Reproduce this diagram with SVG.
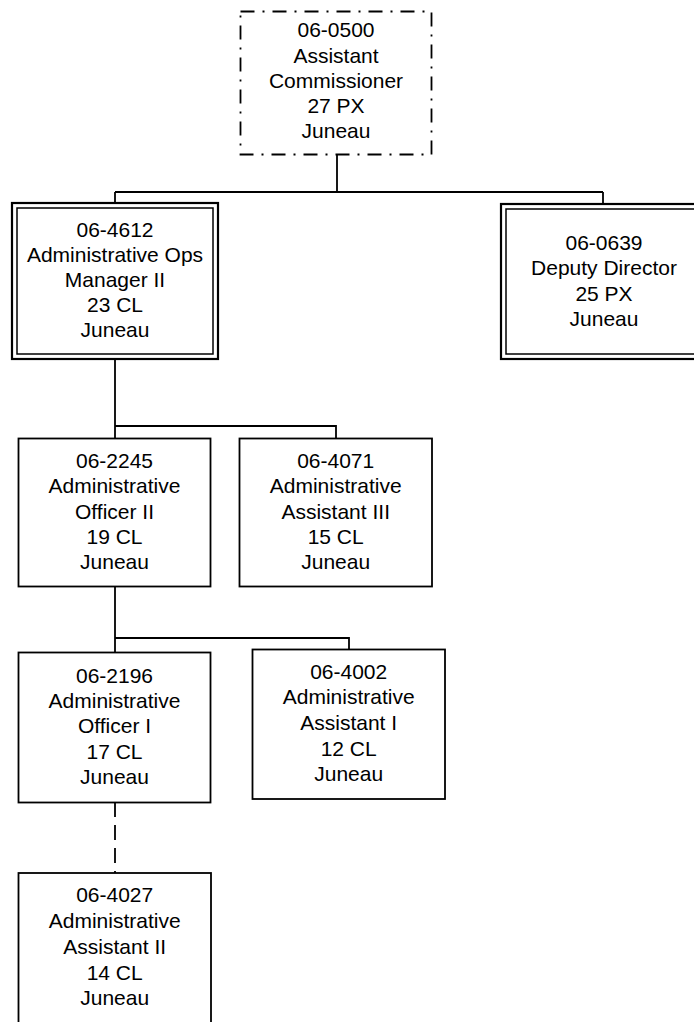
<svg xmlns="http://www.w3.org/2000/svg" width="694" height="1022" viewBox="0 0 694 1022">
<style>
  .box { fill: #ffffff; stroke: #000000; stroke-width: 1.8; }
  .outer { fill: #ffffff; stroke: #000000; stroke-width: 2.2; }
  .inner { fill: none; stroke: #000000; stroke-width: 1.5; }
  .dashdot { fill: #ffffff; stroke: #000000; stroke-width: 1.8; stroke-dasharray: 14 8 2 8; }
  .conn { fill: none; stroke: #000000; stroke-width: 1.8; }
  .dashed { stroke-dasharray: 15 8; }
  text { font-family: "Liberation Sans", Arial, sans-serif; font-size: 21px; fill: #000000; text-anchor: middle; }
</style>
<rect width="694" height="1022" fill="#ffffff"/>
<g id="connectors">
  <path class="conn" d="M337 155 V192 M115 192 H603 M115 192 V203 M603 192 V204"/>
  <path class="conn" d="M115 359 V438 M115 426 H336 V438"/>
  <path class="conn" d="M115 587 V652 M115 638 H349 V649"/>
  <path class="conn dashed" d="M115 802 V873"/>
</g>
<g id="n0500">
  <rect class="dashdot" x="240.5" y="11.5" width="191" height="143"/>
  <text x="336" y="37.3">06-0500</text>
  <text x="336" y="63">Assistant</text>
  <text x="336" y="88">Commissioner</text>
  <text x="336" y="113.3">27 PX</text>
  <text x="336" y="138.3">Juneau</text>
</g>
<g id="n4612">
  <rect class="outer" x="12" y="203" width="206" height="156"/>
  <rect class="inner" x="17" y="208" width="196" height="146"/>
  <text x="115" y="236.7">06-4612</text>
  <text x="115" y="261.7">Administrative Ops</text>
  <text x="115" y="286.7">Manager II</text>
  <text x="115" y="311.7">23 CL</text>
  <text x="115" y="336.7">Juneau</text>
</g>
<g id="n0639">
  <rect class="outer" x="501" y="204" width="206" height="155"/>
  <rect class="inner" x="506" y="209" width="196" height="145"/>
  <text x="604" y="249.5">06-0639</text>
  <text x="604" y="275">Deputy Director</text>
  <text x="604" y="300.5">25 PX</text>
  <text x="604" y="326">Juneau</text>
</g>
<g id="n2245">
  <rect class="box" x="18.5" y="438.5" width="192" height="148"/>
  <text x="114.5" y="468.3">06-2245</text>
  <text x="114.5" y="493.3">Administrative</text>
  <text x="114.5" y="518.5">Officer II</text>
  <text x="114.5" y="544">19 CL</text>
  <text x="114.5" y="569.3">Juneau</text>
</g>
<g id="n4071">
  <rect class="box" x="239.5" y="438.5" width="192.5" height="148"/>
  <text x="335.7" y="468.3">06-4071</text>
  <text x="335.7" y="493.3">Administrative</text>
  <text x="335.7" y="518.5">Assistant III</text>
  <text x="335.7" y="544">15 CL</text>
  <text x="335.7" y="569.3">Juneau</text>
</g>
<g id="n2196">
  <rect class="box" x="18.5" y="652.5" width="192" height="150"/>
  <text x="114.5" y="682.7">06-2196</text>
  <text x="114.5" y="707.7">Administrative</text>
  <text x="114.5" y="733">Officer I</text>
  <text x="114.5" y="758.5">17 CL</text>
  <text x="114.5" y="784">Juneau</text>
</g>
<g id="n4002">
  <rect class="box" x="252.5" y="649.5" width="192.5" height="149.5"/>
  <text x="348.7" y="679.3">06-4002</text>
  <text x="348.7" y="704.3">Administrative</text>
  <text x="348.7" y="730">Assistant I</text>
  <text x="348.7" y="756">12 CL</text>
  <text x="348.7" y="781">Juneau</text>
</g>
<g id="n4027">
  <rect class="box" x="18.5" y="873" width="192.5" height="152"/>
  <text x="114.7" y="901.7">06-4027</text>
  <text x="114.7" y="927.7">Administrative</text>
  <text x="114.7" y="954.3">Assistant II</text>
  <text x="114.7" y="980">14 CL</text>
  <text x="114.7" y="1005">Juneau</text>
</g>
</svg>
